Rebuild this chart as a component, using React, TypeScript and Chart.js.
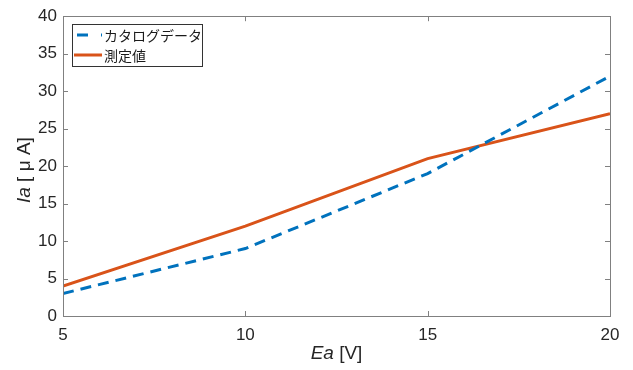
import { useEffect, useRef } from "react";
import { Chart, registerables } from "chart.js";

Chart.register(...registerables);

const xValues = [5, 10, 15, 20];
const catalogData = [3, 9, 19, 32];
const measuredData = [4, 12, 21, 27];
const xTickValues = [5, 10, 15, 20];
const yTickValues = [0, 5, 10, 15, 20, 25, 30, 35, 40];
const seriesLabels = ["カタログデータ", "測定値"];
const seriesColors = ["#0072BD", "#D95319"];
const xTitleParts: [string, boolean][] = [["Ea", true], [" [V]", false]];
const yTitleParts: [string, boolean][] = [["Ia", true], [" [ μ A]", false]];

const NUM_FONT = "'Liberation Sans', Arial, sans-serif";
const JP_FONT = "'Noto Sans CJK JP', sans-serif";
const AXIS_COLOR = "#808080";
const TEXT_COLOR = "#262626";

function drawParts(ctx: CanvasRenderingContext2D, parts: [string, boolean][], size: number) {
  let total = 0;
  const widths: number[] = [];
  for (const [t, it] of parts) {
    ctx.font = `${it ? "italic " : ""}${size}px ${NUM_FONT}`;
    const w = ctx.measureText(t).width;
    widths.push(w);
    total += w;
  }
  let x = -total / 2;
  parts.forEach(([t, it], i) => {
    ctx.font = `${it ? "italic " : ""}${size}px ${NUM_FONT}`;
    ctx.fillText(t, x, 0);
    x += widths[i];
  });
}

const decorPlugin = {
  id: "decor",
  afterDraw(chart: any) {
    const ctx: CanvasRenderingContext2D = chart.ctx;
    const { left, right, top, bottom } = chart.chartArea;
    const xs = chart.scales.x;
    const ys = chart.scales.y;
    ctx.save();
    // box
    ctx.strokeStyle = AXIS_COLOR;
    ctx.lineWidth = 1;
    ctx.setLineDash([]);
    ctx.strokeRect(Math.round(left) + 0.5, Math.round(top) + 0.5, Math.round(right - left), Math.round(bottom - top));
    // ticks inward
    const tl = 5;
    ctx.beginPath();
    for (const v of xTickValues) {
      const px = Math.round(xs.getPixelForValue(v)) + 0.5;
      ctx.moveTo(px, bottom);
      ctx.lineTo(px, bottom - tl);
      ctx.moveTo(px, top);
      ctx.lineTo(px, top + tl);
    }
    for (const v of yTickValues) {
      const py = Math.round(ys.getPixelForValue(v)) + 0.5;
      ctx.moveTo(left, py);
      ctx.lineTo(left + tl, py);
      ctx.moveTo(right, py);
      ctx.lineTo(right - tl, py);
    }
    ctx.stroke();

    // axis titles
    ctx.fillStyle = TEXT_COLOR;
    ctx.textBaseline = "middle";
    ctx.textAlign = "left";
    ctx.save();
    ctx.translate((left + right) / 2, 354);
    drawParts(ctx, xTitleParts, 19);
    ctx.restore();
    ctx.save();
    ctx.translate(25, (top + bottom) / 2 + 4);
    ctx.rotate(-Math.PI / 2);
    drawParts(ctx, yTitleParts, 19);
    ctx.restore();

    // legend
    const bx = 72.5, by = 24.5, bw = 130, bh = 42;
    ctx.fillStyle = "#ffffff";
    ctx.fillRect(bx, by, bw, bh);
    ctx.strokeStyle = "#333333";
    ctx.lineWidth = 1;
    ctx.strokeRect(bx, by, bw, bh);
    const rows = [35, 55];
    seriesLabels.forEach((lab, i) => {
      ctx.strokeStyle = seriesColors[i];
      ctx.lineWidth = 3;
      ctx.setLineDash(i === 0 ? [11, 13] : []);
      ctx.beginPath();
      ctx.moveTo(i === 0 ? 77 : 74, rows[i]);
      ctx.lineTo(102, rows[i]);
      ctx.stroke();
      ctx.setLineDash([]);
      ctx.fillStyle = "#1a1a1a";
      ctx.font = `14px ${JP_FONT}`;
      ctx.textAlign = "left";
      ctx.textBaseline = "middle";
      ctx.fillText(lab, 104, rows[i] + 1);
    });
    ctx.restore();
  },
};

export default function App() {
  const ref = useRef<HTMLCanvasElement | null>(null);
  useEffect(() => {
    if (!ref.current) return;
    const chart = new Chart(ref.current, {
      type: "line",
      data: {
        datasets: [
          {
            label: seriesLabels[0],
            data: xValues.map((x, i) => ({ x, y: catalogData[i] })),
            borderColor: seriesColors[0],
            borderWidth: 3,
            borderDash: [11, 7],
            pointRadius: 0,
            tension: 0,
            fill: false,
          },
          {
            label: seriesLabels[1],
            data: xValues.map((x, i) => ({ x, y: measuredData[i] })),
            borderColor: seriesColors[1],
            borderWidth: 3,
            pointRadius: 0,
            tension: 0,
            fill: false,
          },
        ],
      },
      options: {
        animation: false,
        responsive: true,
        maintainAspectRatio: false,
        layout: { padding: { left: 0, right: 23, top: 16, bottom: 0 } },
        plugins: { legend: { display: false }, tooltip: { enabled: false } },
        scales: {
          x: {
            type: "linear",
            min: 5,
            max: 20,
            afterFit: (s: any) => { s.height = 54; },
            afterBuildTicks: (s: any) => { s.ticks = xTickValues.map((v) => ({ value: v })); },
            grid: { display: false, drawTicks: false },
            border: { display: false },
            ticks: { padding: 9, color: TEXT_COLOR, font: { size: 17, family: NUM_FONT } },
          },
          y: {
            type: "linear",
            min: 0,
            max: 40,
            afterFit: (s: any) => { s.width = 63; },
            afterBuildTicks: (s: any) => { s.ticks = yTickValues.map((v) => ({ value: v })); },
            grid: { display: false, drawTicks: false },
            border: { display: false },
            ticks: { padding: 6, color: TEXT_COLOR, font: { size: 17, family: NUM_FONT } },
          },
        },
      },
      plugins: [decorPlugin],
    });
    return () => chart.destroy();
  }, []);
  return (
    <div style={{ position: "absolute", left: 0, top: 0, width: 633, height: 370, background: "#fff" }}>
      <canvas ref={ref} />
    </div>
  );
}
